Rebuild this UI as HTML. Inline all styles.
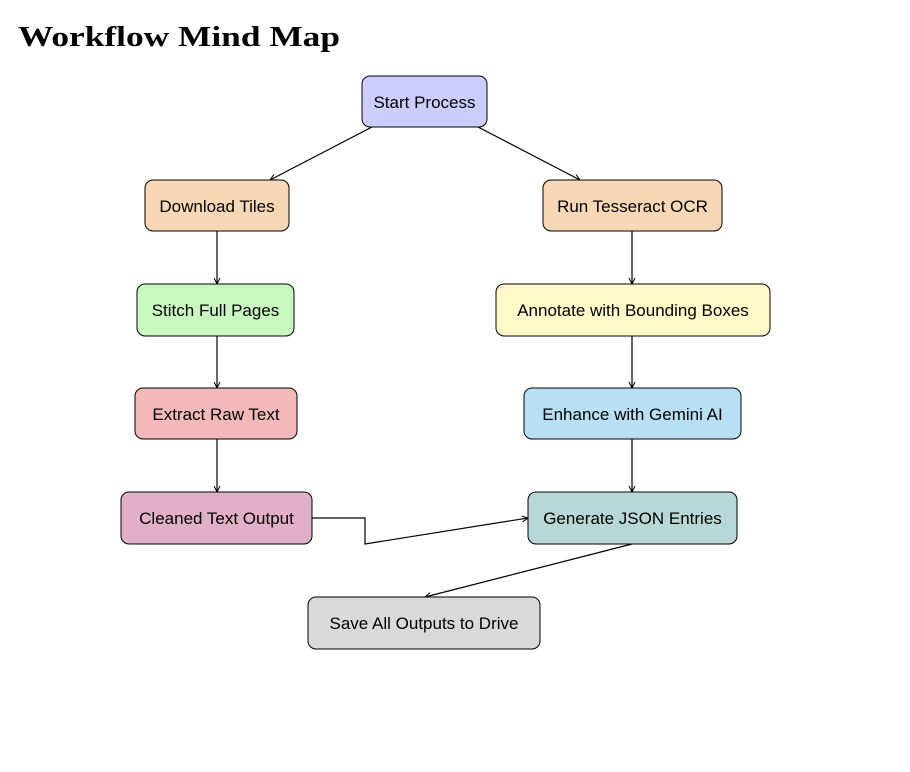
<!DOCTYPE html>
<html><head><meta charset="utf-8"><style>
html,body{margin:0;padding:0;background:#fff;}
svg{display:block;}
</style></head><body>
<svg width="910" height="772" viewBox="0 0 910 772" xmlns="http://www.w3.org/2000/svg">
<defs><marker id="a" markerWidth="8" markerHeight="8" refX="7" refY="4" orient="auto" markerUnits="userSpaceOnUse"><path d="M1,1 L7,4 L1,7" fill="none" stroke="#000" stroke-width="1"/></marker></defs>
<text x="18" y="46" font-family="Liberation Serif, serif" font-weight="bold" font-size="29" textLength="322" lengthAdjust="spacingAndGlyphs">Workflow Mind Map</text>
<g stroke="#000" stroke-width="1.2" fill="none" marker-end="url(#a)">
<line x1="372" y1="127" x2="270" y2="180"/>
<line x1="478" y1="127" x2="580" y2="180"/>
<line x1="217" y1="231" x2="217" y2="284"/>
<line x1="217" y1="336" x2="217" y2="388"/>
<line x1="217" y1="439" x2="217" y2="492"/>
<line x1="632" y1="231" x2="632" y2="284"/>
<line x1="632" y1="336" x2="632" y2="388"/>
<line x1="632" y1="439" x2="632" y2="492"/>
<polyline points="312,518 365,518 365,544 528,518"/>
<line x1="632" y1="544" x2="425" y2="597"/>
</g>
<g stroke="#000" stroke-width="1" font-family="Liberation Sans, sans-serif" font-size="17" text-anchor="middle">
<rect x="362" y="76" width="125" height="51" rx="8" fill="#ccccff"/>
<rect x="145" y="180" width="144" height="51" rx="8" fill="#f8d8b4"/>
<rect x="543" y="180" width="179" height="51" rx="8" fill="#f8d8b4"/>
<rect x="137" y="284" width="157" height="52" rx="8" fill="#c8f8c0"/>
<rect x="496" y="284" width="274" height="52" rx="8" fill="#fffac8"/>
<rect x="135" y="388" width="162" height="51" rx="8" fill="#f4b8b8"/>
<rect x="524" y="388" width="217" height="51" rx="8" fill="#b8e0f4"/>
<rect x="121" y="492" width="191" height="52" rx="8" fill="#e2b0c6"/>
<rect x="528" y="492" width="209" height="52" rx="8" fill="#b8d8d8"/>
<rect x="308" y="597" width="232" height="52" rx="8" fill="#d9d9d9"/>
<g stroke="none" fill="#000">
<text x="424.5" y="108">Start Process</text>
<text x="217" y="212">Download Tiles</text>
<text x="632.5" y="212">Run Tesseract OCR</text>
<text x="215.5" y="316">Stitch Full Pages</text>
<text x="633" y="316">Annotate with Bounding Boxes</text>
<text x="216" y="420">Extract Raw Text</text>
<text x="632.5" y="420">Enhance with Gemini AI</text>
<text x="216.5" y="524">Cleaned Text Output</text>
<text x="632.5" y="524">Generate JSON Entries</text>
<text x="424" y="629">Save All Outputs to Drive</text>
</g>
</g>
</svg>
</body></html>
